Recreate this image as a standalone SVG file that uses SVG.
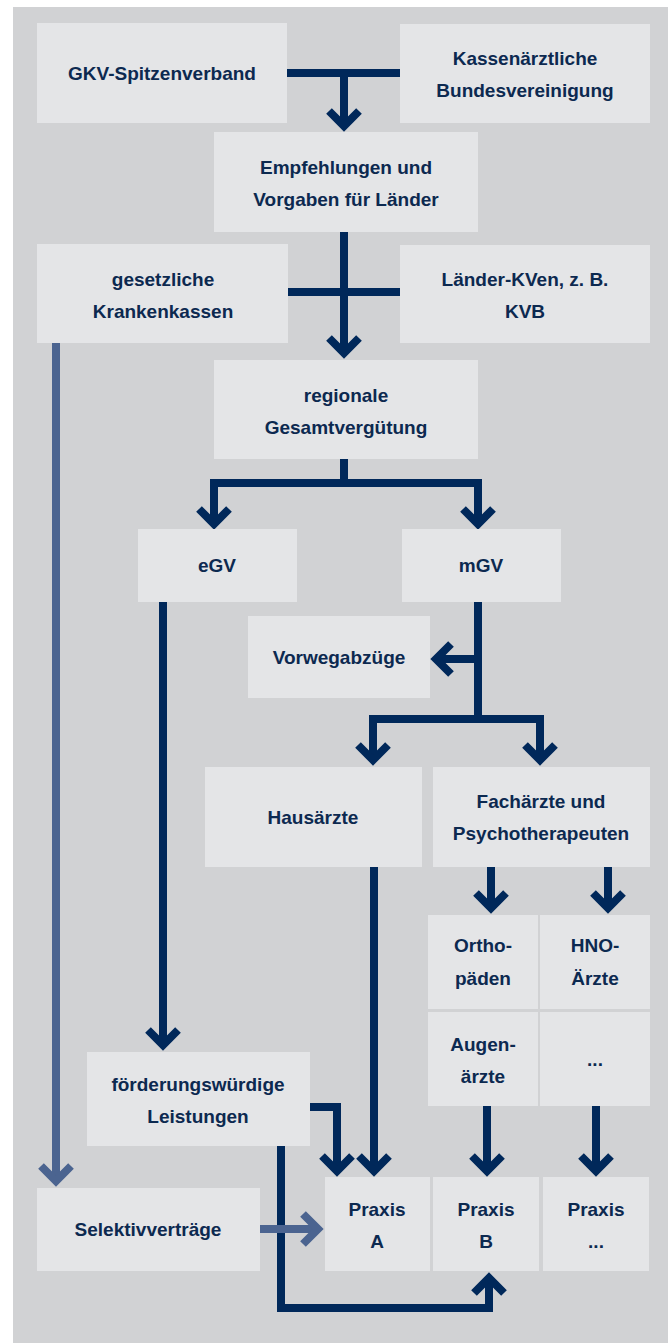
<svg xmlns="http://www.w3.org/2000/svg" width="668" height="1343" viewBox="0 0 668 1343">
<style>
.box{fill:#e4e5e7}
.t{font-family:"Liberation Sans",Arial,sans-serif;font-weight:bold;font-size:19px;fill:#0c2950;text-anchor:middle}
.d{fill:none;stroke:#00285a;stroke-width:8;stroke-linejoin:miter;stroke-linecap:butt}
.l{fill:none;stroke:#4b6490;stroke-width:8;stroke-linejoin:miter;stroke-linecap:butt}
</style>
<defs>
<marker id="ad" markerUnits="userSpaceOnUse" markerWidth="44" markerHeight="44" viewBox="-22 -22 44 44" refX="0" refY="0" orient="auto" overflow="visible">
<path d="M-15,-15 L0,0 L-15,15" fill="none" stroke="#00285a" stroke-width="8" stroke-linejoin="miter"/>
</marker>
<marker id="al" markerUnits="userSpaceOnUse" markerWidth="44" markerHeight="44" viewBox="-22 -22 44 44" refX="0" refY="0" orient="auto" overflow="visible">
<path d="M-15,-15 L0,0 L-15,15" fill="none" stroke="#4b6490" stroke-width="8" stroke-linejoin="miter"/>
</marker>
</defs>
<rect width="668" height="1343" fill="#ffffff"/>
<rect x="13" y="7" width="655" height="1336" fill="#d1d2d4"/>

<g id="connectors">
<path class="d" d="M287 73 H400"/>
<path class="d" d="M344 73 V126" marker-end="url(#ad)"/>
<path class="d" d="M288 292 H400"/>
<path class="d" d="M344 232 V353" marker-end="url(#ad)"/>
<path class="d" d="M344 459 V483"/>
<path class="d" d="M346 483 H214 V524" marker-end="url(#ad)"/>
<path class="d" d="M342 483 H478 V524" marker-end="url(#ad)"/>
<path class="d" d="M163 602 V1045" marker-end="url(#ad)"/>
<path class="d" d="M478 602 V719"/>
<path class="d" d="M478 659 H436" marker-end="url(#ad)"/>
<path class="d" d="M480 719 H373 V760" marker-end="url(#ad)"/>
<path class="d" d="M476 719 H540 V760" marker-end="url(#ad)"/>
<path class="d" d="M374 867 V1171" marker-end="url(#ad)"/>
<path class="d" d="M491 867 V908" marker-end="url(#ad)"/>
<path class="d" d="M608 867 V908" marker-end="url(#ad)"/>
<path class="d" d="M487 1106 V1171" marker-end="url(#ad)"/>
<path class="d" d="M596 1106 V1171" marker-end="url(#ad)"/>
<path class="d" d="M310 1107 H337 V1171" marker-end="url(#ad)"/>
<path class="d" d="M281 1146 V1308 H489 V1278" marker-end="url(#ad)"/>
<path class="l" d="M56 343 V1181" marker-end="url(#al)"/>
<path class="l" d="M260 1229 H318" marker-end="url(#al)"/>
</g>

<g id="gkv"><rect class="box" x="37" y="23" width="250" height="100"/><text class="t" x="162" y="80">GKV-Spitzenverband</text></g>
<g id="kbv"><rect class="box" x="400" y="24" width="250" height="99"/><text class="t" x="525" y="65">Kassenärztliche</text><text class="t" x="525" y="97">Bundesvereinigung</text></g>
<g id="empf"><rect class="box" x="214" y="132" width="264" height="100"/><text class="t" x="346" y="174">Empfehlungen und</text><text class="t" x="346" y="206">Vorgaben für Länder</text></g>
<g id="gkk"><rect class="box" x="37" y="244" width="251" height="99"/><text class="t" x="163" y="286">gesetzliche</text><text class="t" x="163" y="318">Krankenkassen</text></g>
<g id="kven"><rect class="box" x="400" y="245" width="250" height="98"/><text class="t" x="525" y="286">Länder-KVen, z. B.</text><text class="t" x="525" y="318">KVB</text></g>
<g id="rgv"><rect class="box" x="214" y="360" width="264" height="99"/><text class="t" x="346" y="402">regionale</text><text class="t" x="346" y="434">Gesamtvergütung</text></g>
<g id="egv"><rect class="box" x="138" y="529" width="159" height="73"/><text class="t" x="217" y="572">eGV</text></g>
<g id="mgv"><rect class="box" x="402" y="529" width="159" height="73"/><text class="t" x="481" y="572">mGV</text></g>
<g id="vorweg"><rect class="box" x="248" y="616" width="182" height="82"/><text class="t" x="339" y="664">Vorwegabzüge</text></g>
<g id="haus"><rect class="box" x="205" y="767" width="217" height="100"/><text class="t" x="313" y="824">Hausärzte</text></g>
<g id="fach"><rect class="box" x="433" y="767" width="217" height="100"/><text class="t" x="541" y="808">Fachärzte und</text><text class="t" x="541" y="840">Psychotherapeuten</text></g>
<g id="ortho"><rect class="box" x="428" y="915" width="110" height="94"/><text class="t" x="483" y="952">Ortho-</text><text class="t" x="483" y="985">päden</text></g>
<g id="hno"><rect class="box" x="540" y="915" width="110" height="94"/><text class="t" x="595" y="952">HNO-</text><text class="t" x="595" y="985">Ärzte</text></g>
<g id="augen"><rect class="box" x="428" y="1012" width="110" height="94"/><text class="t" x="483" y="1051">Augen-</text><text class="t" x="483" y="1083">ärzte</text></g>
<g id="etc"><rect class="box" x="540" y="1012" width="110" height="94"/><text class="t" x="595" y="1066">...</text></g>
<g id="foerder"><rect class="box" x="87" y="1052" width="223" height="94"/><text class="t" x="198" y="1091">förderungswürdige</text><text class="t" x="198" y="1123">Leistungen</text></g>
<g id="selektiv"><rect class="box" x="37" y="1188" width="223" height="83"/><text class="t" x="148" y="1236">Selektivverträge</text></g>
<g id="praxisA"><rect class="box" x="325" y="1177" width="105" height="94"/><text class="t" x="377" y="1216">Praxis</text><text class="t" x="377" y="1248">A</text></g>
<g id="praxisB"><rect class="box" x="433" y="1177" width="106" height="94"/><text class="t" x="486" y="1216">Praxis</text><text class="t" x="486" y="1248">B</text></g>
<g id="praxisC"><rect class="box" x="543" y="1177" width="106" height="94"/><text class="t" x="596" y="1216">Praxis</text><text class="t" x="596" y="1248">...</text></g>
</svg>
